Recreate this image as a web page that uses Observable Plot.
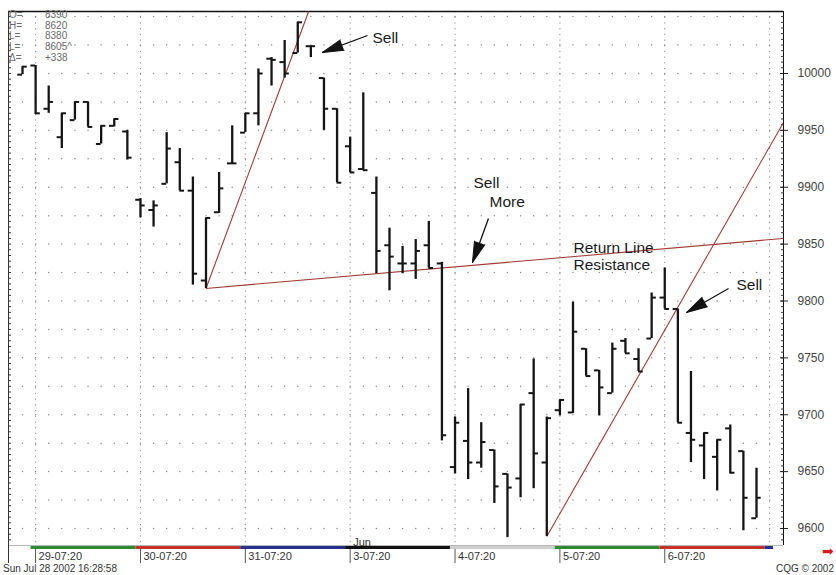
<!DOCTYPE html>
<html><head><meta charset="utf-8">
<script src="https://cdn.jsdelivr.net/npm/d3@7"></script>
<script src="https://cdn.jsdelivr.net/npm/@observablehq/plot@0.6"></script>
<style>
body{margin:0;background:#fff;font-family:"Liberation Sans",Arial,sans-serif;}
#wrap{position:relative;width:836px;height:575px;overflow:hidden;background:#fff;}
#chart svg,#strip svg{display:block;}
#info{position:absolute;left:9px;top:10px;font-size:10px;line-height:10.7px;color:#6a6a6a;}
#info div span{display:inline-block;width:36px;}
#footer{display:flex;justify-content:space-between;font-size:10px;color:#333;padding:0 2px 0 3px;height:12px;line-height:12px;}
#redarrow{position:absolute;right:2px;top:544px;color:#d62020;font-size:14px;line-height:14px;}
</style></head><body>
<div id="wrap">
  <div id="chart"></div>
  <div id="strip"></div>
  <div id="footer"><span>Sun Jul 28 2002 16:28:58</span><span>CQG © 2002</span></div>
  <div id="info"></div>
  <div id="redarrow">➡</div>
</div>
<script>
// ---- data (hourly OHLC bars) ----
const opens  = [9999,10007,9969,9944,9959,9975,9938,9954,9949,9889,9880,9903,9922,9897,9818,9878,9921,9948,9965,10013,10010,10018,10024,9996,9969,9936,9916,9895,9849,9833,9833,9849,9833,9654,9677,9658,9669,9648,9644,9719,9658,9704,9702,9758,9739,9719,9765,9749,9767,9803,9793,9684,9673,9663,9688,9668,9609];
const highs  = [10006,10007,9989,9965,9975,9975,9954,9960,9950,9890,9888,9948,9934,9909,9873,9913,9954,9965,10004,10014,10029,10045,10024,9996,9969,9944,9983,9909,9864,9848,9854,9870,9834,9698,9723,9693,9669,9648,9709,9749,9698,9713,9799,9758,9739,9763,9767,9758,9807,9829,9793,9738,9684,9678,9691,9668,9653];
const lows   = [9999,9964,9965,9934,9959,9953,9938,9953,9924,9873,9865,9903,9897,9814,9811,9877,9920,9948,9954,9989,9996,10018,10014,9950,9904,9913,9915,9824,9809,9824,9819,9829,9677,9648,9643,9653,9622,9592,9627,9635,9593,9699,9701,9734,9699,9719,9754,9738,9767,9793,9693,9658,9643,9633,9648,9598,9609];
const closes = [10006,9965,9975,9965,9975,9953,9954,9960,9926,9884,9884,9934,9897,9824,9873,9899,9921,9965,10000,10012,10000,10045,10024,9969,9904,9913,9915,9844,9839,9833,9844,9829,9682,9693,9658,9676,9637,9636,9709,9666,9697,9713,9773,9734,9724,9758,9754,9738,9803,9793,9693,9678,9684,9678,9649,9627,9627];

const dayLabels = ["29-07:20","30-07:20","31-07:20","3-07:20","4-07:20","5-07:20","6-07:20"];
const dayStarts = [1, 9, 17, 25, 33, 41, 49, 57];
const dayColors = ["#2f8a34","#c8302c","#26318f","#111111","#cfcfcf","#2f8a34","#c8302c","#26318f"];
const monthLabels = ["Jun"];
const monthStarts = [25];

const yTicks = [9600,9650,9700,9750,9800,9850,9900,9950,10000];
const gridLevels = d3.range(9600, 10051, 25);
const minorTicks = d3.range(9590, 10051, 5);

const trendX1 = [14, 14, 40];
const trendY1 = [9811, 9811, 9593];
const trendX2 = [21.83, 58.06, 58.06];
const trendY2 = [10054.5, 9855, 9957];

const noteText = ["Sell", "Sell", "More", "Return Line", "Resistance", "Sell"];
const noteX = [26.7, 34.41, 35.63, 42.04, 42.04, 54.47];
const noteY = [10031.6, 9903.3, 9886.6, 9847, 9831.2, 9813.6];

const arrowX1 = [26.32, 35.55, 53.87];
const arrowY1 = [10033.4, 9872.5, 9811];
const arrowX2 = [22.89, 34.33, 50.66];
const arrowY2 = [10018.5, 9833.8, 9789.9];

const infoLabels = ["O=", "H=", "L=", "L=", "Δ="];
const infoValues = ["8390", "8620", "8380", "8605^", "+338"];

// ---- tables built from the arrays ----
const bars = opens.map((o, i) => ({i, open: o, high: highs[i], low: lows[i], close: closes[i]}));
const xDomain = [-1.068, 58.06];
const yDomain = [9585.05, 10054.5];
const gridDots = gridLevels.flatMap(v => d3.range(0, 58).map(i => ({i, v})));
const trends = trendX1.map((x, k) => ({x1: x, y1: trendY1[k], x2: trendX2[k], y2: trendY2[k]}));
const notes = noteText.map((t, k) => ({t, x: noteX[k], y: noteY[k]}));
const arrows = arrowX1.map((x, k) => ({x1: x, y1: arrowY1[k], x2: arrowX2[k], y2: arrowY2[k]}));
const days = dayLabels.map((label, k) => ({label, start: dayStarts[k]}));
const segments = dayStarts.map((s, k) => ({x1: s - 0.35, x2: k < dayStarts.length - 1 ? dayStarts[k + 1] - 0.35 : s + 0.3, fill: dayColors[k]}));
const months = monthLabels.map((label, k) => ({label, start: monthStarts[k]}));

const W = 836, H = 545, ML = 8, MR = 53, MT = 11;
const xs = Plot.scale({x: {domain: xDomain, range: [ML, W - MR]}});
const ys = Plot.scale({y: {domain: yDomain, range: [H, MT]}});
const angle = d => {
  const dx = xs.apply(d.x2) - xs.apply(d.x1);
  const dy = ys.apply(d.y2) - ys.apply(d.y1);
  return Math.atan2(dx, -dy) * 180 / Math.PI;
};
const tick = 0.36;

const chart = Plot.plot({
  width: W, height: H,
  marginTop: MT, marginBottom: 0, marginLeft: ML, marginRight: MR,
  x: {domain: xDomain, axis: null},
  y: {domain: yDomain},
  style: {background: "white", fontFamily: "'Liberation Sans', Arial, sans-serif", overflow: "visible"},
  marks: [
    Plot.dot(gridDots, {x: "i", y: "v", r: 0.75, fill: "#8a8a8a", stroke: null}),
    Plot.ruleX(dayStarts, {stroke: "#8a8a8a", strokeDasharray: "1.2,4.5"}),
    Plot.ruleY([yDomain[1]], {stroke: "#111", strokeWidth: 1.6}),
    Plot.ruleY([yDomain[0]], {stroke: "#b8b8b8", strokeWidth: 1}),
    Plot.ruleX([xDomain[0]], {stroke: "#333", strokeWidth: 1}),
    Plot.ruleX([xDomain[1]], {stroke: "#111", strokeWidth: 1}),
    Plot.axisY(minorTicks, {anchor: "left", tickSize: 3, dx: 3, tickFormat: () => "", label: null, stroke: "#333"}),
    Plot.axisY(minorTicks, {anchor: "right", tickSize: 3, dx: -3, tickFormat: () => "", label: null, stroke: "#333"}),
    Plot.axisY(yTicks, {anchor: "right", tickSize: 8, dx: -4, tickFormat: () => "", label: null, stroke: "#222"}),
    Plot.axisY(yTicks, {anchor: "right", tickSize: 0, tickPadding: 14, label: null, fontSize: 12, fill: "#444", tickFormat: d => String(d)}),
    Plot.link(trends, {x1: "x1", y1: "y1", x2: "x2", y2: "y2", stroke: "#a23a34", strokeWidth: 1.1, clip: true}),
    Plot.ruleX(bars, {x: "i", y1: "low", y2: "high", stroke: "#151515", strokeWidth: 2.3}),
    Plot.ruleY(bars, {y: "open", x1: d => d.i - tick, x2: "i", stroke: "#151515", strokeWidth: 2}),
    Plot.ruleY(bars, {y: "close", x1: "i", x2: d => d.i + tick, stroke: "#151515", strokeWidth: 2}),
    Plot.text(months, {x: "start", text: "label", frameAnchor: "bottom", textAnchor: "start", lineAnchor: "bottom", dx: 3, dy: 0, fontSize: 11, fill: "#333"}),
    Plot.text(notes, {x: "x", y: "y", text: "t", textAnchor: "start", fontSize: 15.5, fill: "#1a1a1a"}),
    Plot.link(arrows, {x1: "x1", y1: "y1", x2: "x2", y2: "y2", stroke: "#111", strokeWidth: 1.3}),
    Plot.vector(arrows, {x: "x2", y: "y2", rotate: angle, length: 21, r: 5.5, shape: "spike", anchor: "end", fill: "#111", stroke: "#111", strokeWidth: 1})
  ]
});
document.getElementById("chart").appendChild(chart);

const strip = Plot.plot({
  width: W, height: 18,
  marginTop: 0, marginBottom: 0, marginLeft: ML, marginRight: MR,
  x: {domain: xDomain, axis: null},
  style: {background: "white", fontFamily: "'Liberation Sans', Arial, sans-serif", overflow: "visible"},
  marks: [
    Plot.rect(segments, {x1: "x1", x2: "x2", fill: "fill", insetTop: 1, insetBottom: 14}),
    Plot.ruleX(days, {x: "start", stroke: "#555", insetTop: 4}),
    Plot.text(days, {x: "start", text: "label", textAnchor: "start", frameAnchor: "middle", dx: 3, dy: 2, fontSize: 11, fill: "#333"}),
    Plot.ruleX([xDomain[0]], {stroke: "#333"})
  ]
});
document.getElementById("strip").appendChild(strip);

document.getElementById("info").innerHTML = infoLabels.map((l, k) => `<div><span>${l}</span>${infoValues[k]}</div>`).join("");
</script>
</body></html>
